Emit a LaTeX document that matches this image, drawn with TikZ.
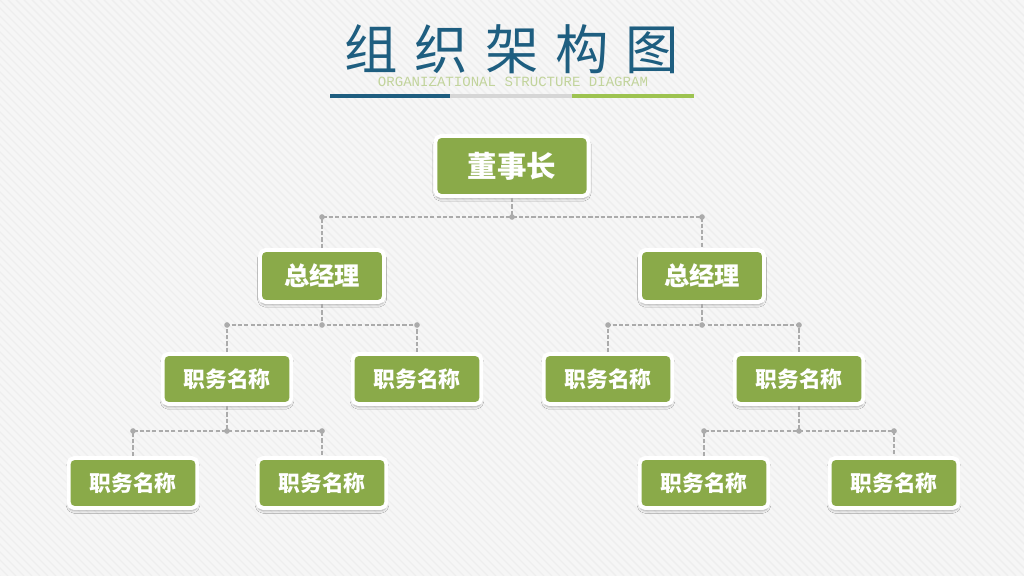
\documentclass[tikz,border=0pt]{standalone}
\usepackage{fontspec}
\newfontfamily\cjk{Noto Sans CJK SC}
\newfontfamily\monofont{Liberation Mono}
\usetikzlibrary{shadows.blur}
\definecolor{boxgreen}{HTML}{8AAA49}
\definecolor{titleblue}{HTML}{1E5E80}
\definecolor{subgreen}{HTML}{C2D49C}
\definecolor{bargreen}{HTML}{9DC350}
\definecolor{bargray}{HTML}{D6D6D6}
\definecolor{linkgray}{HTML}{ABABAB}
\definecolor{bgcolor}{HTML}{F6F6F6}
\definecolor{stripe}{HTML}{EEEEEE}
\gdef\Afill{boxgreen}

\begin{document}
\begin{tikzpicture}[x=0.025cm, y=-0.025cm,
  box/.style={draw=white, line width=2.8pt, rounded corners=4pt, fill=\Afill, text=white,
    blur shadow={shadow xshift=0pt, shadow yshift=-2pt, shadow blur steps=6, shadow opacity=30}},
  topbox/.style={box, minimum width=3.83cm, minimum height=1.5cm, font=\cjk\bfseries\fontsize{21pt}{21pt}\selectfont},
  midbox/.style={box, minimum width=3.1cm, minimum height=1.3cm, font=\cjk\bfseries\fontsize{18pt}{18pt}\selectfont},
  lowbox/.style={box, minimum width=3.22cm, minimum height=1.25cm, font=\cjk\bfseries\fontsize{15.5pt}{15.5pt}\selectfont},
  link/.style={draw=linkgray, line width=1.3pt, dash pattern=on 3pt off 1.5pt},
  knot/.style={fill=linkgray}
]
% background
\fill[bgcolor] (0,0) rectangle (1024,576);
\begin{scope}
\clip (0,0) rectangle (1024,576);
\foreach \s in {-576,-568,...,1024} \draw[stripe, line width=1pt] (\s,0) -- ++(576,576);
\end{scope}
\useasboundingbox (0,0) rectangle (1024,576);

% title
\node[text=titleblue, font=\cjk\fontsize{38pt}{38pt}\selectfont] (T) at (512,49)
  {组\hspace{12pt}织\hspace{12pt}架\hspace{12pt}构\hspace{12pt}图};
\node[text=subgreen, font=\monofont\fontsize{10pt}{10pt}\selectfont] (S) at (513,82)
  {ORGANIZATIONAL STRUCTURE DIAGRAM};
\fill[titleblue] (330,94) rectangle (450,98);
\fill[bargray] (450,94) rectangle (572,98);
\fill[bargreen] (572,94) rectangle (694,98);

% boxes
\node[topbox] (A) at (512,166) {董事长};
\node[midbox] (B) at (322,276) {总经理};
\node[midbox] (C) at (702,276) {总经理};
\node[lowbox] (D) at (227,379) {职务名称};
\node[lowbox] (E) at (417,379) {职务名称};
\node[lowbox] (F) at (608,379) {职务名称};
\node[lowbox] (G) at (799,379) {职务名称};
\node[lowbox] (H) at (133,483) {职务名称};
\node[lowbox] (I) at (322,483) {职务名称};
\node[lowbox] (J) at (704,483) {职务名称};
\node[lowbox] (K) at (894,483) {职务名称};

% junctions
\coordinate (a) at (512,217);
\coordinate (b) at (322,325);
\coordinate (c) at (702,325);
\coordinate (d) at (227,431);
\coordinate (g) at (799,431);

% links
\draw[link] (A.south) -- (a);
\draw[link] (B.north) |- (a) -| (C.north);
\draw[link] (B.south) -- (b);
\draw[link] (D.north) |- (b) -| (E.north);
\draw[link] (C.south) -- (c);
\draw[link] (F.north) |- (c) -| (G.north);
\draw[link] (D.south) -- (d);
\draw[link] (H.north) |- (d) -| (I.north);
\draw[link] (G.south) -- (g);
\draw[link] (J.north) |- (g) -| (K.north);

\fill[knot] (a) circle (2pt) (B.north |- a) circle (2pt) (C.north |- a) circle (2pt);
\fill[knot] (b) circle (2pt) (D.north |- b) circle (2pt) (E.north |- b) circle (2pt);
\fill[knot] (c) circle (2pt) (F.north |- c) circle (2pt) (G.north |- c) circle (2pt);
\fill[knot] (d) circle (2pt) (H.north |- d) circle (2pt) (I.north |- d) circle (2pt);
\fill[knot] (g) circle (2pt) (J.north |- g) circle (2pt) (K.north |- g) circle (2pt);
\end{tikzpicture}
\end{document}
